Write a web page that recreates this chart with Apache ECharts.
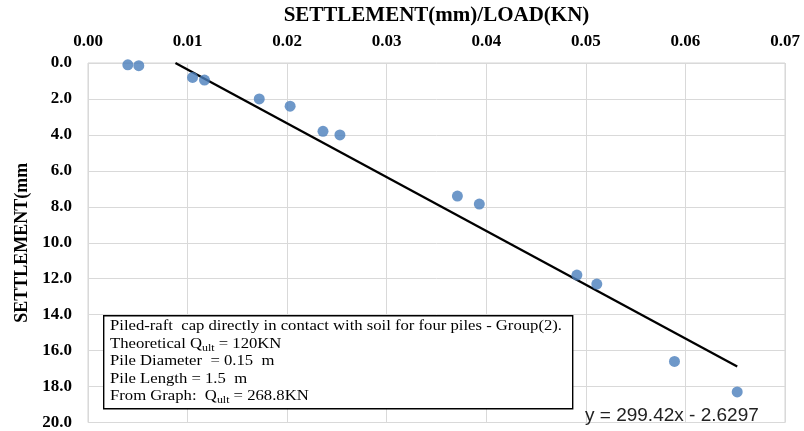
<!DOCTYPE html>
<html>
<head>
<meta charset="utf-8">
<script src="https://cdn.jsdelivr.net/npm/echarts@6/dist/echarts.min.js"></script>
<style>html,body{margin:0;padding:0;background:#fff;}#c{width:804px;height:431px;}</style>
</head>
<body>
<div id="c"></div>
<script>
var ratioX = [0.0040, 0.0051, 0.0105, 0.0117, 0.0172, 0.0203, 0.0236, 0.0253, 0.0371, 0.0393, 0.0491, 0.0511, 0.0589, 0.0652];
var settlement = [0.1, 0.15, 0.8, 0.95, 2.0, 2.4, 3.8, 4.0, 7.4, 7.85, 11.8, 12.3, 16.6, 18.3];
var trendX = [0.00878, 0.0652];
var trendY = [0.0, 16.89];
var xTitle = 'SETTLEMENT(mm)/LOAD(KN)';
var yTitle = 'SETTLEMENT(mm';
var equation = 'y = 299.42x - 2.6297';
var boxLines = [
  'Piled-raft  cap directly in contact with soil for four piles - Group(2).',
  'Theoretical Q{sub|ult} = 120KN',
  'Pile Diameter  = 0.15  m',
  'Pile Length = 1.5  m',
  'From Graph:  Q{sub|ult} = 268.8KN'
];

var pts = ratioX.map(function(x, i){ return [x, settlement[i]]; });
var trend = trendX.map(function(x, i){ return [x, trendY[i]]; });
var serif = '"Liberation Serif", "DejaVu Serif", serif';

var chart = echarts.init(document.getElementById('c'));
chart.setOption({
  animation: false,
  backgroundColor: '#fff',
  grid: { left: 88, right: 19, top: 62, bottom: 7, show: true, borderColor: '#d4d4d4', borderWidth: 1 },
  xAxis: {
    type: 'value', position: 'top', min: 0, max: 0.07, interval: 0.01,
    name: xTitle, nameLocation: 'middle', nameGap: 37,
    nameTextStyle: { fontFamily: serif, fontWeight: 'bold', fontSize: 21, color: '#000' },
    axisLine: { show: false }, axisTick: { show: false },
    axisLabel: { fontFamily: serif, fontWeight: 'bold', fontSize: 17, color: '#000', margin: 13,
      formatter: function(v){ return v.toFixed(2); } },
    splitLine: { show: true, lineStyle: { color: '#d9d9d9', width: 1 } }
  },
  yAxis: {
    type: 'value', inverse: true, min: 0, max: 20, interval: 2,
    name: yTitle, nameLocation: 'middle', nameGap: 57,
    nameTextStyle: { fontFamily: serif, fontWeight: 'bold', fontSize: 18, color: '#000' },
    axisLine: { show: false }, axisTick: { show: false },
    axisLabel: { fontFamily: serif, fontWeight: 'bold', fontSize: 17, color: '#000', margin: 16,
      formatter: function(v){ return v.toFixed(1); } },
    splitLine: { show: true, lineStyle: { color: '#d9d9d9', width: 1 } }
  },
  series: [
    { type: 'line', data: trend, symbol: 'none', lineStyle: { color: '#000', width: 2.3 }, z: 3 },
    { type: 'scatter', data: pts, symbolSize: 11, itemStyle: { color: '#4a7ebb' }, z: 4 }
  ],
  graphic: [
    { type: 'rect', left: 103, top: 315, shape: { width: 469, height: 93 },
      style: { fill: '#fff', stroke: '#000', lineWidth: 1.4 }, z: 10 },
    { type: 'text', x: 110, y: 318, scaleX: 1.19, z: 11,
      style: {
        text: boxLines.join('\n'),
        font: '14px ' + serif, fill: '#000', lineHeight: 17.5,
        rich: { sub: { fontSize: 10, fontFamily: serif, verticalAlign: 'bottom', padding: [6, 0, 0, 0], lineHeight: 17.5 } }
      } },
    { type: 'text', left: 585, top: 406, z: 11,
      style: { text: equation, font: '19px "Liberation Sans", "DejaVu Sans", sans-serif', fill: '#222' } }
  ]
});
</script>
</body>
</html>
